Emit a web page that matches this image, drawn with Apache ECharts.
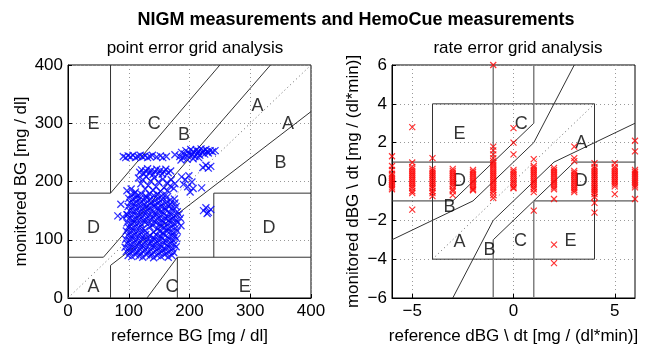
<!DOCTYPE html>
<html>
<head>
<meta charset="utf-8">
<script src="https://cdn.jsdelivr.net/npm/echarts@6/dist/echarts.min.js"></script>
<style>
html, body { margin: 0; padding: 0; background: #fff; }
#chart { width: 652px; height: 350px; }
</style>
</head>
<body>
<div id="chart"></div>
<script>
// point error grid: [reference BG, monitored BG] in mg/dl
const pointData = [
  // cluster near 250
  [176,246],[184,243],[187,250],[189,241],[192,247],[194,253],[197,244],[199,249],[202,255],[204,246],
  [206,251],[209,243],[211,254],[213,248],[215,252],[217,245],[219,256],[221,250],[223,253],[225,247],
  [227,255],[229,251],[231,249],[234,253],[238,251],[242,253],[196,238],[206,239],[186,237],[215,241],
  [91,243],[95,241],[99,244],[103,242],[107,245],[111,241],[115,243],[119,245],[123,242],[127,244],
  [131,241],[135,243],[139,245],[146,242],[152,244],[156,241],[162,243],
  [222,224],[227,228],[231,223],[235,226],
  // band near 215
  [118,216],[121,220],[125,213],[128,218],[131,222],[134,215],[137,219],[140,212],[143,217],[146,221],
  [149,214],[152,219],[155,213],[158,217],[161,221],[165,215],[169,218],
  [116,206],[123,203],[129,208],[136,201],[142,206],[149,199],[156,204],[163,198],[170,203],[176,196],
  [120,196],[132,193],[145,191],[158,189],[168,192],[127,187],[140,185],[152,183],[164,184],[174,188],
  [187,208],[193,203],[199,210],[204,199],[190,195],[197,191],[206,188],[201,182],[220,189],
  [97,184],[104,187],[111,182],
  [87,161],[82,141],[90,139],[97,143],
  [223,150],[227,155],[231,147],[235,152],[229,145],
  // main block
  [103,177],[109,179],[115,176],[121,178],[128,175],[134,179],[141,176],[147,178],[154,175],[161,177],
  [100,171],[106,169],[112,172],[118,170],[124,168],[130,172],[136,170],[143,167],[149,171],[155,169],[162,172],[168,168],[175,170],
  [102,164],[108,162],[113,165],[119,163],[125,161],[131,165],[137,163],[144,160],[150,164],[156,162],[163,165],[169,161],[176,163],
  [99,157],[105,155],[111,158],[117,156],[123,154],[129,157],[135,155],[141,158],[147,154],[153,157],[159,155],[165,158],[171,154],[178,157],
  [101,150],[107,148],[113,151],[119,149],[125,147],[131,151],[137,149],[143,146],[149,150],[155,148],[161,151],[167,147],[173,150],[180,148],
  [98,143],[104,141],[110,144],[116,142],[122,140],[128,144],[134,142],[140,139],[146,143],[152,141],[158,144],[164,140],[170,143],[176,141],[183,144],
  [100,136],[106,134],[112,137],[118,135],[124,133],[130,137],[136,135],[142,132],[148,136],[154,134],[160,137],[166,133],[172,136],[178,134],[185,137],
  [97,129],[103,127],[109,130],[115,128],[121,126],[127,130],[133,128],[139,125],[145,129],[151,127],[157,130],[163,126],[169,129],[175,127],[181,130],
  [99,122],[105,120],[111,123],[117,121],[123,119],[135,122],[147,120],[153,123],[159,121],[165,119],[171,122],[177,120],[186,124],
  [96,115],[102,113],[108,116],[114,114],[120,112],[127,116],[141,113],[150,115],[156,112],[162,116],[168,114],[174,112],[180,115],
  [98,108],[104,106],[110,109],[116,107],[122,105],[128,109],[134,107],[140,104],[146,108],[152,106],[158,109],[164,105],[170,108],[176,106],
  [95,101],[101,99],[107,102],[113,100],[119,98],[125,102],[131,100],[137,97],[143,101],[149,99],[155,102],[161,98],[167,101],[173,99],[179,102],
  [97,94],[103,92],[109,95],[115,93],[121,91],[127,95],[133,93],[139,90],[145,94],[151,92],[157,95],[163,91],[169,94],[175,92],
  [94,87],[100,85],[106,88],[112,86],[118,84],[124,88],[130,86],[136,83],[142,87],[148,85],[154,88],[160,84],[166,87],[172,85],[178,88],
  [96,80],[102,78],[108,81],[114,79],[120,77],[126,81],[132,79],[138,76],[144,80],[150,78],[156,81],[162,77],[168,80],[174,78],
  [99,73],[105,71],[111,74],[117,72],[123,70],[129,74],[135,72],[141,69],[147,73],[153,71],[159,74],[165,70],[171,73]
];

// rate error grid: reference rate columns and monitored rates per column [mg/(dl*min)]
const rateRef = [-6, -5, -4, -3, -2, -1, 0, 1, 2, 3, 4, 5, 6];
const rateMon = [
  [1.3, 0.8, 0.6, 0.4, 0.3, 0.2, 0.1, 0, -0.1, -0.2, -0.3, -0.4],
  [2.8, 0.98, 0.75, 0.65, 0.55, 0.45, 0.35, 0.25, 0.15, 0.05, -0.05, -0.15, -0.25, -0.35, -0.5, -0.6, -1.45],
  [1.2, 0.65, 0.55, 0.45, 0.35, 0.25, 0.15, 0.05, -0.05, -0.15, -0.25, -0.35, -0.5, -0.6, -0.75],
  [0.65, 0.55, 0.45, 0.35, 0.25, 0.15, 0.05, -0.05, -0.15, -0.25, -0.4, -0.5, -0.7],
  [0.6, 0.5, 0.4, 0.3, 0.2, 0.1, 0, -0.1, -0.2, -0.3, -0.4, -0.45],
  [6.0, 1.8, 1.6, 1.4, 1.2, 1.05, 0.95, 0.85, 0.75, 0.65, 0.55, 0.45, 0.35, 0.25, 0.15, 0.05, -0.05, -0.15, -0.25, -0.35, -0.45, -0.55, -0.7, -0.85],
  [2.75, 2.0, 1.4, 0.6, 0.5, 0.4, 0.3, 0.2, 0.1, 0, -0.1, -0.2, -0.3, -0.35],
  [1.15, 0.8, 0.7, 0.6, 0.5, 0.4, 0.3, 0.2, 0.1, 0, -0.1, -0.2, -0.3, -0.4, -0.55, -1.5],
  [0.7, 0.6, 0.5, 0.4, 0.3, 0.2, 0.1, 0, -0.1, -0.2, -0.3, -0.4, -0.9, -3.25, -4.2],
  [1.8, 1.2, 1.05, 0.55, 0.45, 0.35, 0.25, 0.15, 0.05, -0.05, -0.15, -0.25, -0.35, -0.45, -0.55],
  [0.95, 0.75, 0.65, 0.55, 0.45, 0.35, 0.25, 0.15, 0.05, -0.05, -0.15, -0.25, -0.35, -0.45, -0.55, -0.65, -0.8, -1.1, -1.6],
  [0.95, 0.75, 0.65, 0.55, 0.45, 0.35, 0.25, 0.15, 0.05, -0.05, -0.15, -0.25, -0.65],
  [2.1, 1.55, 0.6, 0.5, 0.4, 0.3, 0.2, 0.1, 0, -0.1, -0.2, -0.3, -0.9]
];

// zone boundaries
const pointZoneLines = [
  [[0, 70], [175 / 3, 70], [400 / 1.2, 400]],
  [[70, 400], [70, 180], [0, 180]],
  [[70, 180], [250, 400]],
  [[70, 0], [70, 56], [400, 320]],
  [[130, 0], [180, 70]],
  [[180, 0], [180, 70], [400, 70]],
  [[240, 70], [240, 180], [400, 180]]
];
const rateZoneLines = [
  [[-4, -4], [4, -4], [4, 4], [-4, 4], [-4, -4]],
  [[-6, -3], [-2, -1], [1, 2], [3, 6]],
  [[-3, -6], [-1, -2], [2, 1], [6, 3]],
  [[-3, -1], [-1, 1], [1, 3]],
  [[-1, -3], [1, -1], [3, 1]],
  [[-6, 1], [-1, 1]],
  [[-6, -1], [-3, -1]],
  [[3, 1], [6, 1]],
  [[1, -1], [6, -1]]
];
const rateVLines = [
  [[-1, 1], [-1, 6]],
  [[-1, -3], [-1, -6]],
  [[1, 3], [1, 6]],
  [[1, -1], [1, -6]]
];
const pointLabels = [
  ['E', 42, 298], ['C', 142, 298], ['B', 191, 279], ['A', 312, 329], ['A', 362, 298],
  ['B', 350, 232], ['D', 42, 120], ['D', 331, 120], ['A', 42, 19], ['C', 171, 19], ['E', 291, 19]
];
const rateLabels = [
  ['E', -2.67, 2.46], ['C', 0.38, 2.95], ['A', 3.34, 1.97], ['D', 3.34, 0], ['D', -2.67, 0],
  ['B', -3.16, -1.32], ['A', -2.67, -3.1], ['B', -1.19, -3.55], ['C', 0.35, -3.05], ['E', 2.81, -3.05]
];

const FONT = 'Liberation Sans, Arial, Helvetica, sans-serif';
const cross = 'path://M0,0L10,10M10,0L0,10';
const minus = v => String(v).replace('-', '\u2212');

let ratePoints = [];
rateRef.forEach((x, i) => {
  rateMon[i].forEach(y => ratePoints.push([x, y]));
});

function axisBase(extra) {
  return Object.assign({
    type: 'value',
    axisLine: { show: true, onZero: false, lineStyle: { color: '#000', width: 1 } },
    axisTick: { show: true, inside: true, length: 4, lineStyle: { color: '#000' } },
    axisLabel: { color: '#000', fontSize: 17, fontFamily: FONT, margin: 5, formatter: minus },
    splitLine: { show: true, lineStyle: { color: '#999', type: [1, 3], width: 1 } },
    nameLocation: 'middle',
    nameTextStyle: { color: '#000', fontSize: 17, fontFamily: FONT }
  }, extra);
}

function lineSeries(pts, xi, color, width, type) {
  return {
    type: 'line', xAxisIndex: xi, yAxisIndex: xi, data: pts,
    symbol: 'none', silent: true, animation: false, z: 3,
    lineStyle: { color: color, width: width, type: type || 'solid' }
  };
}

function labelSeries(list, xi) {
  return {
    type: 'scatter', xAxisIndex: xi, yAxisIndex: xi, symbolSize: 1, silent: true,
    itemStyle: { color: 'rgba(0,0,0,0)' }, z: 4,
    data: list.map(d => ({ name: d[0], value: [d[1], d[2]] })),
    label: { show: true, position: 'inside', formatter: '{b}', color: '#000', fontSize: 18, fontFamily: FONT }
  };
}

let series = [];
series.push(lineSeries([[0, 0], [400, 400]], 0, '#666', 1, [1, 3]));
pointZoneLines.forEach(l => series.push(lineSeries(l, 0, '#333', 1)));
series.push(lineSeries([[-4, -4], [4, 4]], 1, '#666', 1, [1, 3]));
rateZoneLines.forEach(l => series.push(lineSeries(l, 1, '#333', 1)));
rateVLines.forEach(l => series.push(lineSeries(l, 1, '#808080', 1.5)));
series.push({
  type: 'scatter', xAxisIndex: 0, yAxisIndex: 0, data: pointData, z: 5,
  symbol: cross, symbolSize: 7, silent: true,
  itemStyle: { color: 'rgba(0,0,0,0)', borderColor: '#0000ff', borderWidth: 1.3 }
});
series.push({
  type: 'scatter', xAxisIndex: 1, yAxisIndex: 1, data: ratePoints, z: 5,
  symbol: cross, symbolSize: 6, silent: true,
  itemStyle: { color: 'rgba(0,0,0,0)', borderColor: '#ff0000', borderWidth: 1.2 }
});
series.push(labelSeries(pointLabels, 0));
series.push(labelSeries(rateLabels, 1));

const chart = echarts.init(document.getElementById('chart'));
chart.setOption({
  animation: false,
  backgroundColor: '#fff',
  title: [
    { text: 'NIGM measurements and HemoCue measurements', left: 351, top: 6, textAlign: 'center',
      textStyle: { fontSize: 18, fontWeight: 'bold', color: '#000', fontFamily: FONT } },
    { text: 'point error grid analysis', left: 190, top: 35, textAlign: 'center',
      textStyle: { fontSize: 17, fontWeight: 'normal', color: '#000', fontFamily: FONT } },
    { text: 'rate error grid analysis', left: 513, top: 35, textAlign: 'center',
      textStyle: { fontSize: 17, fontWeight: 'normal', color: '#000', fontFamily: FONT } }
  ],
  grid: [
    { left: 68, top: 65, width: 243, height: 243, show: true, borderColor: '#000', borderWidth: 1, backgroundColor: 'transparent' },
    { left: 392, top: 65, width: 243, height: 243, show: true, borderColor: '#000', borderWidth: 1, backgroundColor: 'transparent' }
  ],
  xAxis: [
    axisBase({ gridIndex: 0, min: 0, max: 400, interval: 100, name: 'refernce BG [mg / dl]', nameGap: 30 }),
    axisBase({ gridIndex: 1, min: -6, max: 6, name: 'reference dBG \\ dt [mg / (dl*min)]', nameGap: 30,
      axisTick: { show: true, inside: true, length: 4, lineStyle: { color: '#000' }, customValues: [-5, 0, 5] },
      axisLabel: { color: '#000', fontSize: 17, fontFamily: FONT, margin: 5, formatter: minus, customValues: [-5, 0, 5] } })
  ],
  yAxis: [
    axisBase({ gridIndex: 0, min: 0, max: 400, interval: 100, name: 'monitored BG [mg / dl]', nameGap: 38 }),
    axisBase({ gridIndex: 1, min: -6, max: 6, interval: 2, name: 'monitored dBG \\ dt [mg / (dl*min)]', nameGap: 30 })
  ],
  series: series
});
</script>
</body>
</html>
